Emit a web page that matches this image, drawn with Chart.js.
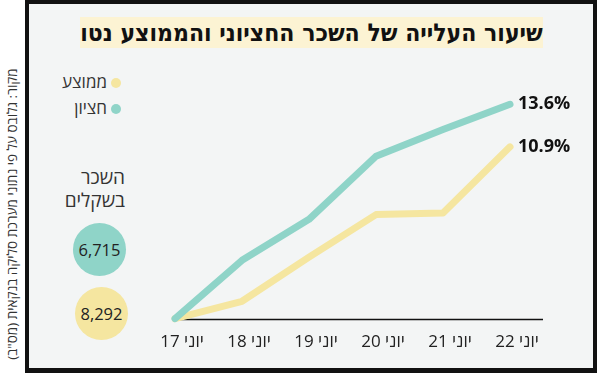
<!DOCTYPE html>
<html lang="he">
<head>
  <meta charset="UTF-8">
  <title>שיעור העלייה של השכר החציוני והממוצע נטו</title>
  <script src="https://cdn.jsdelivr.net/npm/chart.js"></script>
  <style>
    html, body {
      margin: 0;
      padding: 0;
      background: #fff;
      font-family: 'Open Sans', 'DejaVu Sans', sans-serif;
    }
    .page {
      position: relative;
      width: 597px;
      height: 373px;
      overflow: hidden;
    }
    .frame {
      position: absolute;
      left: 25px;
      top: 0;
      width: 572px;
      height: 373px;
      box-sizing: border-box;
      border: 4px solid #111;
      border-bottom-width: 5px;
      background: #f3f5f5;
    }
    .title {
      position: absolute;
      left: 80px;
      top: 17px;
      width: 463px;
      height: 31px;
      background: #fcf3d3;
      direction: rtl;
      text-align: center;
      font-family: 'DejaVu Sans Condensed', 'DejaVu Sans', sans-serif;
      font-weight: bold;
      font-size: 24.5px;
      line-height: 31px;
      color: #111;
      white-space: nowrap;
    }
    .source {
      position: absolute;
      left: 12px;
      top: 214px;
      width: 320px;
      transform: translate(-50%, -50%) rotate(-90deg);
      direction: rtl;
      text-align: center;
      font-size: 13.5px;
      color: #333;
      white-space: nowrap;
    }
    .legend {
      position: absolute;
      right: 476px;
      direction: rtl;
      font-size: 17px;
      color: #333;
      line-height: 20px;
    }
    .legend span.dot {
      display: inline-block;
      width: 10px;
      height: 10px;
      border-radius: 50%;
      margin-left: 4px;
      vertical-align: middle;
    }
    .wage-title {
      position: absolute;
      right: 472px;
      top: 166px;
      direction: rtl;
      text-align: right;
      font-size: 19px;
      line-height: 23px;
      color: #333;
    }
    .bubble {
      position: absolute;
      width: 53px;
      height: 53px;
      border-radius: 50%;
      text-align: center;
      line-height: 53px;
      font-size: 16.5px;
      color: #222;
    }
    #chartBox {
      position: absolute;
      left: 0;
      top: 0;
      width: 597px;
      height: 373px;
    }
  </style>
</head>
<body>
<div class="page">
  <div class="frame"></div>
  <div class="title">שיעור העלייה של השכר החציוני והממוצע נטו</div>
  <div class="source">מקור: גלובס על פי נתוני מערכת סליקה בנקאית (מס"ב)</div>

  <div class="legend" id="legendAvg" style="top:72px;"><span class="dot" id="dotAvg"></span>ממוצע</div>
  <div class="legend" id="legendMed" style="top:98px;"><span class="dot" id="dotMed"></span>חציון</div>

  <div class="wage-title">השכר<br>בשקלים</div>
  <div class="bubble" id="bubbleMed" style="left:73px; top:223px;"></div>
  <div class="bubble" id="bubbleAvg" style="left:75px; top:287px;"></div>

  <div id="chartBox"><canvas id="wageChart"></canvas></div>
</div>

<script>
  // נתונים
  var months = ['יוני 17', 'יוני 18', 'יוני 19', 'יוני 20', 'יוני 21', 'יוני 22'];
  var medianRise = [0, 3.7, 6.3, 10.3, 12.0, 13.6];
  var averageRise = [0, 1.1, 3.9, 6.6, 6.7, 10.9];
  var medianWage = 6715;
  var averageWage = 8292;

  var tealColor = '#8fd4c8';
  var yellowColor = '#f5e6a0';

  document.getElementById('dotMed').style.background = tealColor;
  document.getElementById('dotAvg').style.background = yellowColor;
  document.getElementById('bubbleMed').style.background = tealColor;
  document.getElementById('bubbleAvg').style.background = yellowColor;
  document.getElementById('bubbleMed').textContent = medianWage.toLocaleString('en-US');
  document.getElementById('bubbleAvg').textContent = averageWage.toLocaleString('en-US');

  // קו ציר ה-X שממשיך מעבר לנקודה האחרונה
  var axisLine = {
    id: 'axisLine',
    beforeDatasetsDraw: function(chart) {
      var ctx = chart.ctx, a = chart.chartArea;
      ctx.save();
      ctx.strokeStyle = '#111';
      ctx.lineWidth = 1.5;
      ctx.beginPath();
      ctx.moveTo(a.left, a.bottom + 1);
      ctx.lineTo(a.right + 33, a.bottom + 1);
      ctx.stroke();
      ctx.restore();
    }
  };

  // תוויות האחוז בסוף כל קו
  var endLabels = {
    id: 'endLabels',
    afterDatasetsDraw: function(chart) {
      var ctx = chart.ctx;
      ctx.save();
      ctx.font = 'bold 18px "Open Sans", sans-serif';
      ctx.fillStyle = '#111';
      ctx.textAlign = 'left';
      ctx.textBaseline = 'middle';
      chart.data.datasets.forEach(function(ds, i) {
        var pts = chart.getDatasetMeta(i).data;
        var last = pts[pts.length - 1];
        ctx.fillText(ds.data[ds.data.length - 1].toFixed(1) + '%', last.x + 8, last.y);
      });
      ctx.restore();
    }
  };

  var ctx = document.getElementById('wageChart').getContext('2d');
  var wageChart = new Chart(ctx, {
    type: 'line',
    data: {
      labels: months,
      datasets: [{
        label: 'חציון',
        data: medianRise,
        borderColor: tealColor,
        borderWidth: 7,
        pointRadius: 0,
        tension: 0,
        borderCapStyle: 'round',
        borderJoinStyle: 'round',
        order: 0
      }, {
        label: 'ממוצע',
        data: averageRise,
        borderColor: yellowColor,
        borderWidth: 7,
        pointRadius: 0,
        tension: 0,
        borderCapStyle: 'round',
        borderJoinStyle: 'round',
        order: 1
      }]
    },
    options: {
      responsive: true,
      maintainAspectRatio: false,
      animation: false,
      clip: false,
      layout: {
        padding: { left: 175, right: 87, top: 98, bottom: 8 }
      },
      plugins: {
        legend: { display: false },
        tooltip: { enabled: false }
      },
      scales: {
        x: {
          grid: { display: false, drawTicks: false },
          border: { display: false },
          ticks: {
            color: '#222',
            font: { family: "'Open Sans', 'DejaVu Sans', sans-serif", size: 17 },
            padding: 13,
            labelOffset: 7,
            maxRotation: 0,
            autoSkip: false
          }
        },
        y: {
          display: false,
          min: 0,
          max: 14
        }
      }
    },
    plugins: [axisLine, endLabels]
  });
</script>
</body>
</html>
